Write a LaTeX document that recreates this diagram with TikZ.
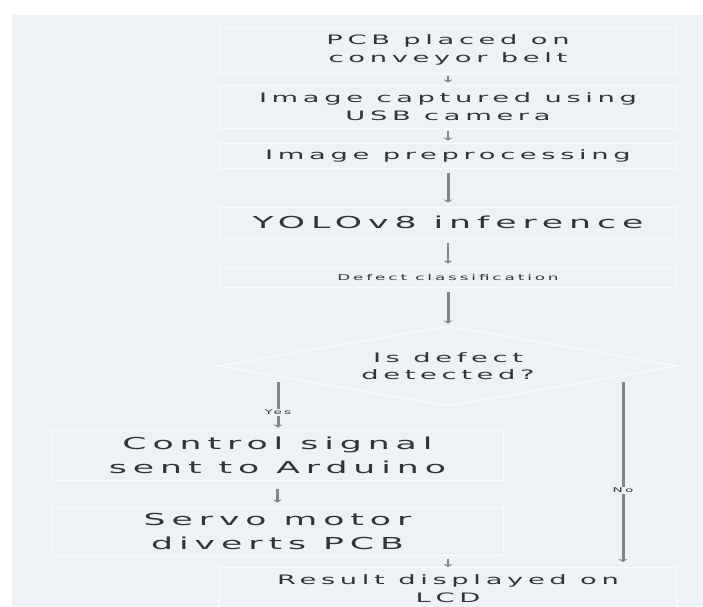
\documentclass[tikz,border=0pt]{standalone}
\usepackage{fontspec}
\setmainfont{DejaVu Sans}[FakeStretch=2.1,LetterSpace=36]
\usetikzlibrary{shapes.geometric,arrows.meta}
\definecolor{panelbg}{RGB}{238,241,245}
\definecolor{boxline}{RGB}{250,251,253}
\definecolor{flowgrey}{RGB}{128,132,140}
\definecolor{inkgrey}{RGB}{50,52,56}
\begin{document}
\begin{tikzpicture}[x=1pt,y=-1pt,
  stepbox/.style={draw=boxline, line width=1pt, fill=panelbg, align=center, text=inkgrey, minimum width=457pt, inner sep=0pt},
  midfont/.style={font=\fontsize{13}{17.5}\selectfont},
  bigfont/.style={font=\fontsize{16.5}{24}\selectfont},
  smallfont/.style={font=\fontsize{8}{10}\selectfont},
  flowline/.style={draw=flowgrey, -{Stealth[length=3pt,width=9pt]}, shorten <=2pt, shorten >=2pt},
  flowlabel/.style={fill=panelbg, text=inkgrey, inner sep=1pt, font=\fontsize{6.5}{8}\selectfont}]
\useasboundingbox (0,0) rectangle (703,606);
\fill[panelbg] (12,15) rectangle (703,606);
\node[stepbox, midfont, minimum height=46pt] (belt) at (448,50) {PCB placed on\\conveyor belt};
\node[stepbox, midfont, minimum height=43pt] (camera) at (448,106.5) {Image captured using\\USB camera};
\node[stepbox, midfont, minimum height=25pt] (prep) at (448,155.5) {Image preprocessing};
\node[stepbox, bigfont, minimum height=31pt] (yolo) at (448,222.5) {YOLOv8 inference};
\node[stepbox, smallfont, minimum height=19pt] (classify) at (448,277.5) {Defect classification};
\node[shape=diamond, draw=boxline, line width=1pt, fill=panelbg, text=inkgrey, midfont, align=center, aspect=5.75, inner sep=0pt, minimum width=460pt, minimum height=80pt] (defect) at (448,366) {Is defect\\detected?};
\node[stepbox, bigfont, minimum width=451pt, minimum height=50pt] (arduino) at (277.5,455) {Control signal\\sent to Arduino};
\node[stepbox, bigfont, minimum width=451pt, minimum height=48pt] (servo) at (277.5,531) {Servo motor\\diverts PCB};
\node[stepbox, midfont, minimum height=42pt, anchor=north] (lcd) at (448,567) {Result displayed on\\LCD};
\coordinate (yesstart) at (278,380);
\coordinate (nostart) at (623,380);
\draw[flowline, line width=1.2pt] (belt) -- (camera);
\draw[flowline, line width=1.2pt] (camera) -- (prep);
\draw[flowline, line width=3pt, shorten <=4pt, shorten >=4pt] (prep) -- (yolo);
\draw[flowline, line width=2.5pt, shorten <=4pt, shorten >=4pt] (yolo) -- (classify);
\draw[flowline, line width=3pt, shorten <=4pt] (classify) -- (defect);
\draw[flowline, line width=3pt] (yesstart) -- node[flowlabel, pos=0.65] {Yes} (yesstart |- arduino.north);
\draw[flowline, line width=2.5pt, shorten <=8pt, shorten >=4pt] (arduino) -- (servo);
\draw[flowline, line width=1.2pt, shorten <=3pt, shorten >=0pt] (servo.south -| lcd.north) -- (lcd);
\draw[flowline, line width=3pt, shorten >=5pt] (nostart) -- node[flowlabel, pos=0.59] {No} (nostart |- lcd.north);
\end{tikzpicture}
\end{document}
